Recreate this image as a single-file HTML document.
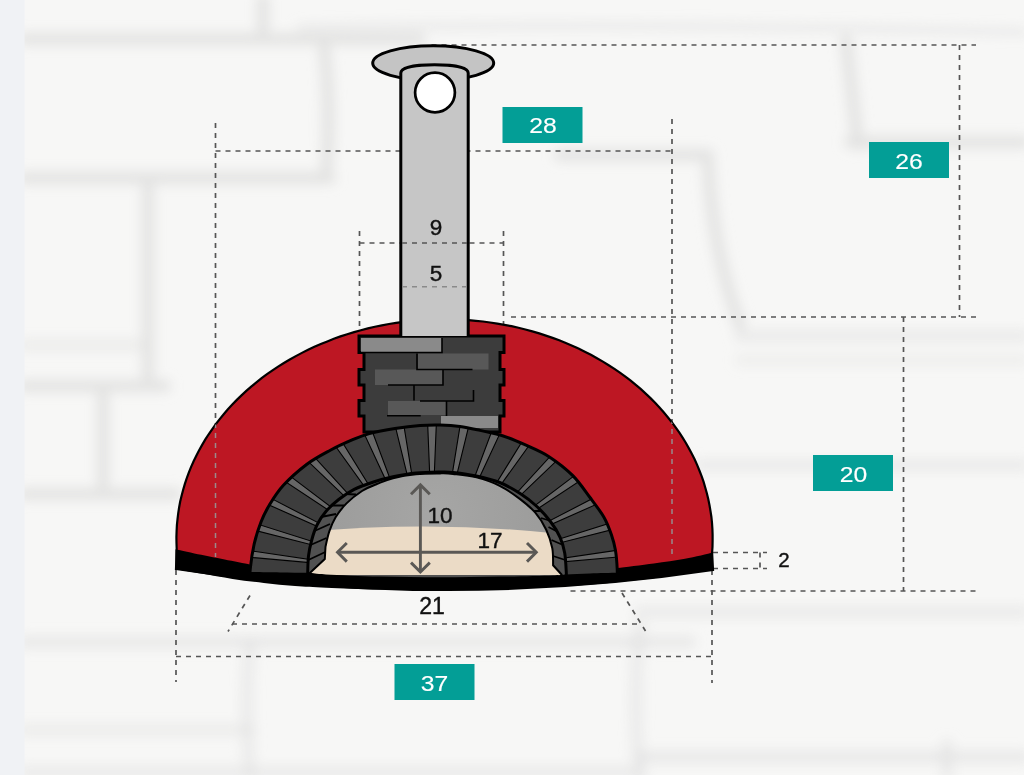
<!DOCTYPE html>
<html><head><meta charset="utf-8">
<style>
html,body{margin:0;padding:0;width:1024px;height:775px;overflow:hidden;background:#f3f3f2;}
svg{display:block;}
text{font-family:"Liberation Sans",sans-serif;}
</style></head>
<body>
<svg width="1024" height="775" viewBox="0 0 1024 775">
<defs>
<filter id="bl" x="-20%" y="-20%" width="140%" height="140%"><feGaussianBlur stdDeviation="6"/></filter>
<radialGradient id="cavg" cx="436" cy="515" r="135" gradientUnits="userSpaceOnUse"><stop offset="0" stop-color="#a6a6a5"/><stop offset="1" stop-color="#9a9a99"/></radialGradient>
<clipPath id="domeclip"><path d="M150 300 H740 V560 Q445 612 150 560 Z"/></clipPath>
</defs>
<!-- background -->
<rect x="0" y="0" width="1024" height="775" fill="#f7f7f6"/>
<g id="stones" filter="url(#bl)" fill="none" stroke="#e3e3e2" stroke-width="12" stroke-linecap="round">
<path d="M24 39 H420"/>
<path d="M263 0 V39"/>
<path d="M24 178 H330"/>
<path d="M324 45 Q332 110 326 178"/>
<path d="M148 180 V386"/>
<path d="M24 386 H165"/>
<path d="M300 28 Q600 22 1024 32" stroke-width="7" opacity="0.7"/>
<path d="M846 40 L858 145"/>
<path d="M560 155 H708"/>
<path d="M850 142 H1024"/>
<path d="M708 160 Q712 250 740 325"/>
<path d="M740 336 H1024" opacity="0.6"/>
<path d="M740 360 H1024" opacity="0.4"/>
<path d="M103 386 V484"/>
<path d="M24 494 H176"/>
<path d="M24 642 H690" opacity="0.7"/>
<path d="M24 730 H250" opacity="0.5"/>
<path d="M24 772 H640" opacity="0.6"/>
<path d="M250 645 Q244 700 250 775" opacity="0.6"/>
<path d="M700 465 H1024" opacity="0.6"/>
<path d="M640 612 H1024" stroke-width="12" opacity="0.6"/>
<path d="M640 625 Q632 700 640 775" opacity="0.6"/>
<path d="M640 757 H1024" opacity="0.7"/>
<path d="M947 745 V775" opacity="0.6"/>
<path d="M24 345 H148" opacity="0.5"/>
</g>
<rect x="0" y="0" width="24.5" height="775" fill="#f0f2f5"/>

<!-- dashed dimension lines (background) -->
<g fill="none" stroke="#555" stroke-width="1.7" stroke-dasharray="5 5">
  <path d="M431.5 45H976"/>
  <path d="M959.5 45V317"/>
  <path d="M976 317H507"/>
  <path d="M215.5 151H672"/>
  <path d="M215.5 123V557"/>
  <path d="M672 119V558"/>
  <path d="M359.5 231V336"/>
  <path d="M503.5 231V336"/>
  <path d="M359.5 243H503.5"/>
  <path d="M903.5 317V591"/>
  <path d="M975.5 591H566"/>
  <path d="M713 552.5H767M713 568.5H767M760 552.5V568.5"/>
  <path d="M712 570V683"/>
  <path d="M176 570V682"/>
  <path d="M176 656.5H712"/>
  <path d="M232 624H640"/>
  <path d="M250 595.5L228 631.5"/>
  <path d="M622 593L645.5 631"/>
</g>

<!-- dome -->
<path d="M176.7,549.0 L176.5,543.1 L176.4,537.1 L176.6,531.2 L176.9,525.2 L177.5,519.3 L178.2,513.4 L179.1,507.5 L180.2,501.6 L181.6,495.8 L183.1,490.0 L184.8,484.2 L186.7,478.4 L188.8,472.7 L191.0,467.1 L193.5,461.5 L196.2,456.0 L199.0,450.5 L202.0,445.1 L205.2,439.7 L208.5,434.5 L212.1,429.3 L215.8,424.2 L219.7,419.1 L223.7,414.2 L227.9,409.3 L232.3,404.6 L236.8,399.9 L241.5,395.4 L246.3,390.9 L251.2,386.6 L256.4,382.4 L261.6,378.2 L267.0,374.2 L272.5,370.4 L278.1,366.6 L283.9,363.0 L289.8,359.5 L295.8,356.1 L301.9,352.9 L308.1,349.8 L314.4,346.8 L320.8,344.0 L327.3,341.4 L333.8,338.8 L340.5,336.4 L347.2,334.2 L354.1,332.1 L360.9,330.2 L367.9,328.4 L374.9,326.8 L381.9,325.3 L389.0,324.0 L396.1,322.9 L403.3,321.9 L410.5,321.0 L417.7,320.4 L425.0,319.9 L432.2,319.5 L439.5,319.3 L446.7,319.3 L454.0,319.4 L461.3,319.7 L468.5,320.1 L475.8,320.8 L483.0,321.5 L490.1,322.5 L497.3,323.6 L504.4,324.8 L511.5,326.2 L518.5,327.8 L525.4,329.5 L532.3,331.4 L539.2,333.4 L545.9,335.6 L552.6,337.9 L559.2,340.3 L565.8,343.0 L572.2,345.7 L578.5,348.6 L584.8,351.7 L590.9,354.8 L597.0,358.2 L602.9,361.6 L608.7,365.2 L614.4,368.9 L619.9,372.7 L625.4,376.7 L630.7,380.7 L635.8,384.9 L640.9,389.2 L645.7,393.6 L650.5,398.1 L655.1,402.7 L659.5,407.5 L663.7,412.3 L667.8,417.2 L671.8,422.2 L675.6,427.3 L679.2,432.4 L682.6,437.7 L685.9,443.0 L688.9,448.4 L691.8,453.8 L694.6,459.3 L697.1,464.9 L699.4,470.5 L701.6,476.2 L703.6,481.9 L705.3,487.7 L706.9,493.5 L708.3,499.3 L709.5,505.2 L710.5,511.1 L711.4,517.0 L712.0,522.9 L712.4,528.8 L712.6,534.8 L712.6,540.7 L712.5,546.7 L712.1,552.6 L713 570 Q445 610.5 176 569 Z" fill="#bd1723" stroke="#000" stroke-width="2.2"/>
<!-- dashed over dome -->
<clipPath id="domeonly"><path d="M176.7,549.0 L176.5,543.1 L176.4,537.1 L176.6,531.2 L176.9,525.2 L177.5,519.3 L178.2,513.4 L179.1,507.5 L180.2,501.6 L181.6,495.8 L183.1,490.0 L184.8,484.2 L186.7,478.4 L188.8,472.7 L191.0,467.1 L193.5,461.5 L196.2,456.0 L199.0,450.5 L202.0,445.1 L205.2,439.7 L208.5,434.5 L212.1,429.3 L215.8,424.2 L219.7,419.1 L223.7,414.2 L227.9,409.3 L232.3,404.6 L236.8,399.9 L241.5,395.4 L246.3,390.9 L251.2,386.6 L256.4,382.4 L261.6,378.2 L267.0,374.2 L272.5,370.4 L278.1,366.6 L283.9,363.0 L289.8,359.5 L295.8,356.1 L301.9,352.9 L308.1,349.8 L314.4,346.8 L320.8,344.0 L327.3,341.4 L333.8,338.8 L340.5,336.4 L347.2,334.2 L354.1,332.1 L360.9,330.2 L367.9,328.4 L374.9,326.8 L381.9,325.3 L389.0,324.0 L396.1,322.9 L403.3,321.9 L410.5,321.0 L417.7,320.4 L425.0,319.9 L432.2,319.5 L439.5,319.3 L446.7,319.3 L454.0,319.4 L461.3,319.7 L468.5,320.1 L475.8,320.8 L483.0,321.5 L490.1,322.5 L497.3,323.6 L504.4,324.8 L511.5,326.2 L518.5,327.8 L525.4,329.5 L532.3,331.4 L539.2,333.4 L545.9,335.6 L552.6,337.9 L559.2,340.3 L565.8,343.0 L572.2,345.7 L578.5,348.6 L584.8,351.7 L590.9,354.8 L597.0,358.2 L602.9,361.6 L608.7,365.2 L614.4,368.9 L619.9,372.7 L625.4,376.7 L630.7,380.7 L635.8,384.9 L640.9,389.2 L645.7,393.6 L650.5,398.1 L655.1,402.7 L659.5,407.5 L663.7,412.3 L667.8,417.2 L671.8,422.2 L675.6,427.3 L679.2,432.4 L682.6,437.7 L685.9,443.0 L688.9,448.4 L691.8,453.8 L694.6,459.3 L697.1,464.9 L699.4,470.5 L701.6,476.2 L703.6,481.9 L705.3,487.7 L706.9,493.5 L708.3,499.3 L709.5,505.2 L710.5,511.1 L711.4,517.0 L712.0,522.9 L712.4,528.8 L712.6,534.8 L712.6,540.7 L712.5,546.7 L712.1,552.6 L713 570 Q445 610.5 176 569 Z"/></clipPath>
<g fill="none" stroke="#9a8a8c" stroke-width="1.5" stroke-dasharray="5 5" clip-path="url(#domeonly)">
  <path d="M215.5 123V557"/>
  <path d="M672 119V558"/>
</g>

<!-- chimney brick base -->
<g id="cbase">
<path d="M359 336 H504 V352.5 H500 V369.5 H504 V385 H500 V400.5 H504 V416 H500 V432 H364 V416 H359 V400.5 H364 V385 H359 V369.5 H364 V352.5 H359 Z" fill="#3c3c3c" stroke="#000" stroke-width="3"/>
<rect x="361" y="338" width="81" height="14.5" fill="#8a8a8a"/>
<rect x="418" y="353.5" width="70.5" height="16" fill="#585858"/>
<rect x="375" y="369.5" width="68" height="15.5" fill="#585858"/>
<rect x="388" y="401" width="58" height="14" fill="#585858"/>
<rect x="441" y="416" width="57" height="12" fill="#8a8a8a"/>
<g stroke="#000" stroke-width="1.6" fill="none">
<path d="M361 352.5H442V338"/>
<path d="M417 353.5V369.5H472.5"/>
<path d="M388 385H443V369.5"/>
<path d="M414 385V400.5"/>
<path d="M420 401H473.5V390"/>
<path d="M446.5 401V416"/>
<path d="M387 415.7H420.7"/>
</g>
</g>

<!-- arch -->
<g id="arch" clip-path="url(#domeclip)">
<path d="CAVD" fill="url(#cavg)"/>
<path d="M300 531 Q436 516 570 535 L570 590 L300 590 Z" fill="#e9dac4"/>
<clipPath id="ringclip"><path d="M249.3,592.0 C249.5,588.1 249.5,576.6 250.3,568.6 C251.1,560.6 252.4,551.6 254.2,543.8 C256.0,536.0 258.5,528.5 261.0,522.0 C263.5,515.5 265.7,511.1 269.4,505.0 C273.1,498.9 277.1,492.1 283.4,485.3 C289.6,478.5 299.1,470.1 306.9,464.2 C314.7,458.3 322.5,454.4 330.3,450.2 C338.1,446.0 347.3,442.0 353.8,439.2 C360.3,436.4 362.5,435.4 369.4,433.6 C376.3,431.8 386.6,429.9 395.0,428.6 C403.4,427.3 412.5,426.2 420.0,425.6 C427.5,425.0 433.3,425.0 440.0,425.1 C446.7,425.2 453.3,425.5 460.0,426.4 C466.7,427.3 472.9,428.8 480.0,430.4 C487.1,432.0 494.8,433.3 502.5,435.8 C510.2,438.3 518.2,441.7 526.0,445.2 C533.8,448.7 541.6,451.8 549.4,456.9 C557.2,462.0 566.0,468.8 572.8,475.6 C579.6,482.4 584.8,490.6 590.0,497.5 C595.2,504.4 600.2,510.8 603.8,517.0 C607.4,523.2 609.6,529.5 611.5,535.0 C613.4,540.5 614.4,544.3 615.4,550.0 C616.4,555.7 616.9,562.3 617.2,569.3 C617.5,576.3 617.4,588.2 617.4,592.0 Z"/></clipPath>
<path d="M249.3,592.0 C249.5,588.1 249.5,576.6 250.3,568.6 C251.1,560.6 252.4,551.6 254.2,543.8 C256.0,536.0 258.5,528.5 261.0,522.0 C263.5,515.5 265.7,511.1 269.4,505.0 C273.1,498.9 277.1,492.1 283.4,485.3 C289.6,478.5 299.1,470.1 306.9,464.2 C314.7,458.3 322.5,454.4 330.3,450.2 C338.1,446.0 347.3,442.0 353.8,439.2 C360.3,436.4 362.5,435.4 369.4,433.6 C376.3,431.8 386.6,429.9 395.0,428.6 C403.4,427.3 412.5,426.2 420.0,425.6 C427.5,425.0 433.3,425.0 440.0,425.1 C446.7,425.2 453.3,425.5 460.0,426.4 C466.7,427.3 472.9,428.8 480.0,430.4 C487.1,432.0 494.8,433.3 502.5,435.8 C510.2,438.3 518.2,441.7 526.0,445.2 C533.8,448.7 541.6,451.8 549.4,456.9 C557.2,462.0 566.0,468.8 572.8,475.6 C579.6,482.4 584.8,490.6 590.0,497.5 C595.2,504.4 600.2,510.8 603.8,517.0 C607.4,523.2 609.6,529.5 611.5,535.0 C613.4,540.5 614.4,544.3 615.4,550.0 C616.4,555.7 616.9,562.3 617.2,569.3 C617.5,576.3 617.4,588.2 617.4,592.0 Z" fill="#3d3d3d"/>
<g clip-path="url(#ringclip)">
<path d="M244.5,556.8 L245.1,550.0 L318.0,560.6 L317.8,563.4 Z" fill="#666" stroke="#000" stroke-width="1.1"/>
<path d="M249.7,529.0 L252.0,522.4 L322.1,544.5 L321.1,547.2 Z" fill="#666" stroke="#000" stroke-width="1.1"/>
<path d="M262.1,501.9 L266.1,495.8 L330.5,529.1 L328.8,531.5 Z" fill="#666" stroke="#000" stroke-width="1.1"/>
<path d="M280.5,478.4 L285.9,472.9 L342.5,515.7 L340.1,517.9 Z" fill="#666" stroke="#000" stroke-width="1.1"/>
<path d="M304.4,457.9 L311.1,453.4 L357.7,504.3 L354.8,506.1 Z" fill="#666" stroke="#000" stroke-width="1.1"/>
<path d="M332.1,441.6 L339.8,438.2 L375.1,495.3 L371.8,496.8 Z" fill="#666" stroke="#000" stroke-width="1.1"/>
<path d="M362.4,429.9 L370.8,427.5 L393.9,489.1 L390.4,490.0 Z" fill="#666" stroke="#000" stroke-width="1.1"/>
<path d="M394.4,422.6 L403.2,421.4 L413.6,485.4 L409.9,485.9 Z" fill="#666" stroke="#000" stroke-width="1.1"/>
<path d="M427.5,419.7 L436.5,419.7 L433.9,484.3 L430.1,484.3 Z" fill="#666" stroke="#000" stroke-width="1.1"/>
<path d="M460.8,421.4 L469.6,422.6 L454.1,485.9 L450.4,485.4 Z" fill="#666" stroke="#000" stroke-width="1.1"/>
<path d="M493.2,427.5 L501.6,429.9 L473.6,490.0 L470.1,489.1 Z" fill="#666" stroke="#000" stroke-width="1.1"/>
<path d="M524.2,438.2 L531.9,441.6 L492.2,496.8 L488.9,495.3 Z" fill="#666" stroke="#000" stroke-width="1.1"/>
<path d="M552.9,453.4 L559.6,457.9 L509.2,506.1 L506.3,504.3 Z" fill="#666" stroke="#000" stroke-width="1.1"/>
<path d="M578.1,472.9 L583.5,478.4 L523.9,517.9 L521.5,515.7 Z" fill="#666" stroke="#000" stroke-width="1.1"/>
<path d="M597.9,495.8 L601.9,501.9 L535.2,531.5 L533.5,529.1 Z" fill="#666" stroke="#000" stroke-width="1.1"/>
<path d="M612.0,522.4 L614.3,529.0 L542.9,547.2 L541.9,544.5 Z" fill="#666" stroke="#000" stroke-width="1.1"/>
<path d="M618.9,550.0 L619.5,556.8 L546.2,563.4 L546.0,560.6 Z" fill="#666" stroke="#000" stroke-width="1.1"/>
</g>
<path d="M249.3,592.0 C249.5,588.1 249.5,576.6 250.3,568.6 C251.1,560.6 252.4,551.6 254.2,543.8 C256.0,536.0 258.5,528.5 261.0,522.0 C263.5,515.5 265.7,511.1 269.4,505.0 C273.1,498.9 277.1,492.1 283.4,485.3 C289.6,478.5 299.1,470.1 306.9,464.2 C314.7,458.3 322.5,454.4 330.3,450.2 C338.1,446.0 347.3,442.0 353.8,439.2 C360.3,436.4 362.5,435.4 369.4,433.6 C376.3,431.8 386.6,429.9 395.0,428.6 C403.4,427.3 412.5,426.2 420.0,425.6 C427.5,425.0 433.3,425.0 440.0,425.1 C446.7,425.2 453.3,425.5 460.0,426.4 C466.7,427.3 472.9,428.8 480.0,430.4 C487.1,432.0 494.8,433.3 502.5,435.8 C510.2,438.3 518.2,441.7 526.0,445.2 C533.8,448.7 541.6,451.8 549.4,456.9 C557.2,462.0 566.0,468.8 572.8,475.6 C579.6,482.4 584.8,490.6 590.0,497.5 C595.2,504.4 600.2,510.8 603.8,517.0 C607.4,523.2 609.6,529.5 611.5,535.0 C613.4,540.5 614.4,544.3 615.4,550.0 C616.4,555.7 616.9,562.3 617.2,569.3 C617.5,576.3 617.4,588.2 617.4,592.0" fill="none" stroke="#000" stroke-width="3"/>
<path d="M307.0,590.0 C307.1,587.2 307.4,578.7 307.7,573.0 C307.9,567.3 307.9,561.4 308.5,556.0 C309.1,550.6 310.2,545.7 311.6,540.5 C313.0,535.3 314.6,529.9 317.0,525.0 C319.4,520.1 322.7,515.2 326.3,511.0 C329.9,506.8 334.1,503.1 338.7,499.5 C343.3,495.9 348.5,492.3 354.2,489.4 C359.9,486.5 366.3,484.3 372.8,482.2 C379.3,480.1 385.8,478.3 393.0,476.8 C400.2,475.3 408.4,473.8 416.2,473.0 C424.0,472.2 433.8,472.1 440.0,472.0 C446.2,471.9 447.1,471.7 453.2,472.4 C459.3,473.1 468.8,474.3 476.5,476.0 C484.2,477.7 492.5,479.6 499.7,482.5 C506.9,485.4 513.6,489.3 519.8,493.3 C526.0,497.3 531.7,501.7 536.9,506.5 C542.1,511.3 546.9,516.9 550.8,522.0 C554.7,527.1 557.8,532.2 560.1,537.4 C562.4,542.6 563.7,547.1 564.7,553.0 C565.7,558.9 566.0,566.8 566.3,573.0 C566.6,579.2 566.5,587.2 566.5,590.0 Z" fill="#515151"/>
<path d="M308.3,560.0 L325.3,552.0" stroke="#000" stroke-width="1.8"/>
<path d="M310.5,545.0 L326.5,538.0" stroke="#000" stroke-width="1.8"/>
<path d="M314.5,531.0 L330.0,524.0" stroke="#000" stroke-width="1.8"/>
<path d="M321.0,517.0 L336.0,514.0" stroke="#000" stroke-width="1.8"/>
<path d="M331.0,505.5 L344.0,505.5" stroke="#000" stroke-width="1.8"/>
<path d="M345.0,494.0 L356.0,494.5" stroke="#000" stroke-width="1.8"/>
<path d="M565.3,560.0 L553.0,556.0" stroke="#000" stroke-width="1.8"/>
<path d="M563.0,545.0 L551.5,540.0" stroke="#000" stroke-width="1.8"/>
<path d="M558.0,532.0 L548.5,527.0" stroke="#000" stroke-width="1.8"/>
<path d="M551.0,521.0 L541.0,518.0" stroke="#000" stroke-width="1.8"/>
<path d="M542.0,511.0 L534.0,511.0" stroke="#000" stroke-width="1.8"/>
<path d="M307.7,575 L324.8,559 L325.5,546.7 C326.1,544.1 327.7,536.1 329.4,531.2 C331.1,526.3 332.8,521.9 335.6,517.3 C338.5,512.7 342.1,507.8 346.5,503.4 C350.9,499.0 356.9,494.3 362.0,491.0 C367.1,487.7 372.2,485.9 377.4,483.8 C382.6,481.7 386.6,479.8 393.0,478.2 C399.4,476.6 408.2,475.1 416.0,474.3 C423.8,473.5 433.8,473.5 440.0,473.4 C446.2,473.3 446.9,473.2 453.0,473.9 C459.1,474.6 468.7,475.4 476.5,477.4 C484.3,479.4 492.5,482.2 499.7,485.8 C506.9,489.4 513.9,494.4 519.8,498.9 C525.7,503.4 530.9,507.6 535.3,512.7 C539.7,517.8 543.4,523.8 546.2,529.7 C549.0,535.6 551.1,542.4 552.3,548.3 C553.4,554.2 553.0,562.5 553.1,565.3 L562,575 Z" fill="url(#cavg)"/>
<clipPath id="cavclip"><path d="M307.7,575 L324.8,559 L325.5,546.7 C326.1,544.1 327.7,536.1 329.4,531.2 C331.1,526.3 332.8,521.9 335.6,517.3 C338.5,512.7 342.1,507.8 346.5,503.4 C350.9,499.0 356.9,494.3 362.0,491.0 C367.1,487.7 372.2,485.9 377.4,483.8 C382.6,481.7 386.6,479.8 393.0,478.2 C399.4,476.6 408.2,475.1 416.0,474.3 C423.8,473.5 433.8,473.5 440.0,473.4 C446.2,473.3 446.9,473.2 453.0,473.9 C459.1,474.6 468.7,475.4 476.5,477.4 C484.3,479.4 492.5,482.2 499.7,485.8 C506.9,489.4 513.9,494.4 519.8,498.9 C525.7,503.4 530.9,507.6 535.3,512.7 C539.7,517.8 543.4,523.8 546.2,529.7 C549.0,535.6 551.1,542.4 552.3,548.3 C553.4,554.2 553.0,562.5 553.1,565.3 L562,575 Z"/></clipPath>
<path clip-path="url(#cavclip)" d="M290 533.5 Q438 517.5 590 537.5 L590 600 L290 600 Z" fill="#ebdbc6"/>
<path d="M307.7,575 L324.8,559 L325.5,546.7 C326.1,544.1 327.7,536.1 329.4,531.2 C331.1,526.3 332.8,521.9 335.6,517.3 C338.5,512.7 342.1,507.8 346.5,503.4 C350.9,499.0 356.9,494.3 362.0,491.0 C367.1,487.7 372.2,485.9 377.4,483.8 C382.6,481.7 386.6,479.8 393.0,478.2 C399.4,476.6 408.2,475.1 416.0,474.3 C423.8,473.5 433.8,473.5 440.0,473.4 C446.2,473.3 446.9,473.2 453.0,473.9 C459.1,474.6 468.7,475.4 476.5,477.4 C484.3,479.4 492.5,482.2 499.7,485.8 C506.9,489.4 513.9,494.4 519.8,498.9 C525.7,503.4 530.9,507.6 535.3,512.7 C539.7,517.8 543.4,523.8 546.2,529.7 C549.0,535.6 551.1,542.4 552.3,548.3 C553.4,554.2 553.0,562.5 553.1,565.3 L562,575" fill="none" stroke="#000" stroke-width="2"/>
<path d="M307.0,590.0 C307.1,587.2 307.4,578.7 307.7,573.0 C307.9,567.3 307.9,561.4 308.5,556.0 C309.1,550.6 310.2,545.7 311.6,540.5 C313.0,535.3 314.6,529.9 317.0,525.0 C319.4,520.1 322.7,515.2 326.3,511.0 C329.9,506.8 334.1,503.1 338.7,499.5 C343.3,495.9 348.5,492.3 354.2,489.4 C359.9,486.5 366.3,484.3 372.8,482.2 C379.3,480.1 385.8,478.3 393.0,476.8 C400.2,475.3 408.4,473.8 416.2,473.0 C424.0,472.2 433.8,472.1 440.0,472.0 C446.2,471.9 447.1,471.7 453.2,472.4 C459.3,473.1 468.8,474.3 476.5,476.0 C484.2,477.7 492.5,479.6 499.7,482.5 C506.9,485.4 513.6,489.3 519.8,493.3 C526.0,497.3 531.7,501.7 536.9,506.5 C542.1,511.3 546.9,516.9 550.8,522.0 C554.7,527.1 557.8,532.2 560.1,537.4 C562.4,542.6 563.7,547.1 564.7,553.0 C565.7,558.9 566.0,566.8 566.3,573.0 C566.6,579.2 566.5,587.2 566.5,590.0" fill="none" stroke="#000" stroke-width="3"/>
</g>

<!-- base band -->
<path d="M175.5,549.2 C179.8,550.1 193.1,553.1 201.2,554.8 C209.4,556.5 216.6,557.9 224.7,559.5 C232.8,561.1 245.6,563.7 249.8,564.5 L250.8,572.0 C255.7,572.1 270.6,572.3 280.0,572.4 C289.4,572.5 299.8,572.5 307.5,572.8 C315.2,573.1 313.9,573.8 326.0,574.4 C338.1,575.0 361.0,576.1 380.0,576.6 C399.0,577.1 420.0,577.3 440.0,577.3 C460.0,577.3 481.2,576.9 500.0,576.6 C518.8,576.3 542.0,575.8 553.0,575.4 C564.0,575.0 559.8,574.7 566.0,574.4 C572.2,574.1 581.5,573.7 590.0,573.4 C598.5,573.1 612.3,572.9 616.8,572.8 L617.6,568.0 C623.6,567.2 642.5,564.9 653.8,563.4 C665.0,561.9 675.1,560.6 685.0,558.8 C694.9,556.9 708.3,553.5 713.0,552.4 L713.0,569.7 C708.3,570.4 694.9,572.2 685.0,573.6 C675.1,575.0 664.2,577.0 653.8,578.3 C643.3,579.6 632.9,580.4 622.5,581.4 C612.1,582.4 601.7,583.7 591.2,584.5 C580.8,585.3 575.2,585.6 560.0,586.3 C544.8,587.0 520.0,588.3 500.0,588.9 C480.0,589.5 460.0,590.0 440.0,590.1 C420.0,590.2 399.0,589.9 380.0,589.5 C361.0,589.1 340.4,588.3 326.2,587.7 C312.1,587.1 305.4,586.8 295.0,586.0 C284.6,585.2 274.2,584.2 263.8,583.0 C253.3,581.8 242.9,580.6 232.5,579.0 C222.1,577.4 210.8,575.3 201.2,573.6 C191.8,571.9 179.8,569.7 175.5,568.9 Z" fill="#000"/>

<!-- arrows -->
<g fill="none" stroke="#5a5855" stroke-width="2.9" stroke-linecap="butt" stroke-linejoin="miter">
  <path d="M420.4 485V571.5"/>
  <path d="M411 494.3L420.4 484.9L429.8 494.3"/>
  <path d="M411 562.6L420.4 572L429.8 562.6"/>
  <path d="M337.5 552.3H536"/>
  <path d="M346.8 543L337.5 552.3L346.8 561.6"/>
  <path d="M527 543L536.3 552.3L527 561.6"/>
</g>

<!-- pipe -->
<ellipse cx="433.2" cy="63.1" rx="60.5" ry="17.3" fill="#c4c4c4" stroke="#000" stroke-width="3"/>
<path d="M400.8 336 V73 C400.8 67 418 64.8 434.5 64.8 C451 64.8 468.2 67 468.2 73 V336" fill="#c6c6c6" stroke="#000" stroke-width="3"/>
<circle cx="435" cy="92.5" r="19.9" fill="#fff" stroke="#000" stroke-width="2.7"/>
<path d="M402 286.7H467" fill="none" stroke="#8a8a8a" stroke-width="1.5" stroke-dasharray="5 5"/>
<path d="M402 243H467" fill="none" stroke="#555" stroke-width="1.7" stroke-dasharray="5 5"/>

<!-- labels -->
<g fill="#039e96">
  <rect x="502.5" y="107" width="80" height="36"/>
  <rect x="869" y="142" width="80" height="36"/>
  <rect x="813" y="455" width="80" height="36"/>
  <rect x="394.5" y="664" width="80" height="36"/>
</g>
<g fill="#fff" font-size="21.5" text-anchor="middle" stroke="#fff" stroke-width="0.15" lengthAdjust="spacingAndGlyphs">
  <text x="543" y="133" textLength="27.5" lengthAdjust="spacingAndGlyphs">28</text>
  <text x="909" y="168.5" textLength="27.5" lengthAdjust="spacingAndGlyphs">26</text>
  <text x="853.5" y="481.5" textLength="27.5" lengthAdjust="spacingAndGlyphs">20</text>
  <text x="434.5" y="690.5" textLength="27.5" lengthAdjust="spacingAndGlyphs">37</text>
</g>
<g fill="#111" font-size="22.5" text-anchor="middle" stroke="#111" stroke-width="0.4">
  <text x="436" y="235">9</text>
  <text x="436" y="280.5">5</text>
  <text x="440" y="523">10</text>
  <text x="490" y="548">17</text>
  <text x="784" y="567" font-size="20.5">2</text>
  <text x="432" y="614" font-size="23">21</text>
</g>
</svg>
</body></html>
